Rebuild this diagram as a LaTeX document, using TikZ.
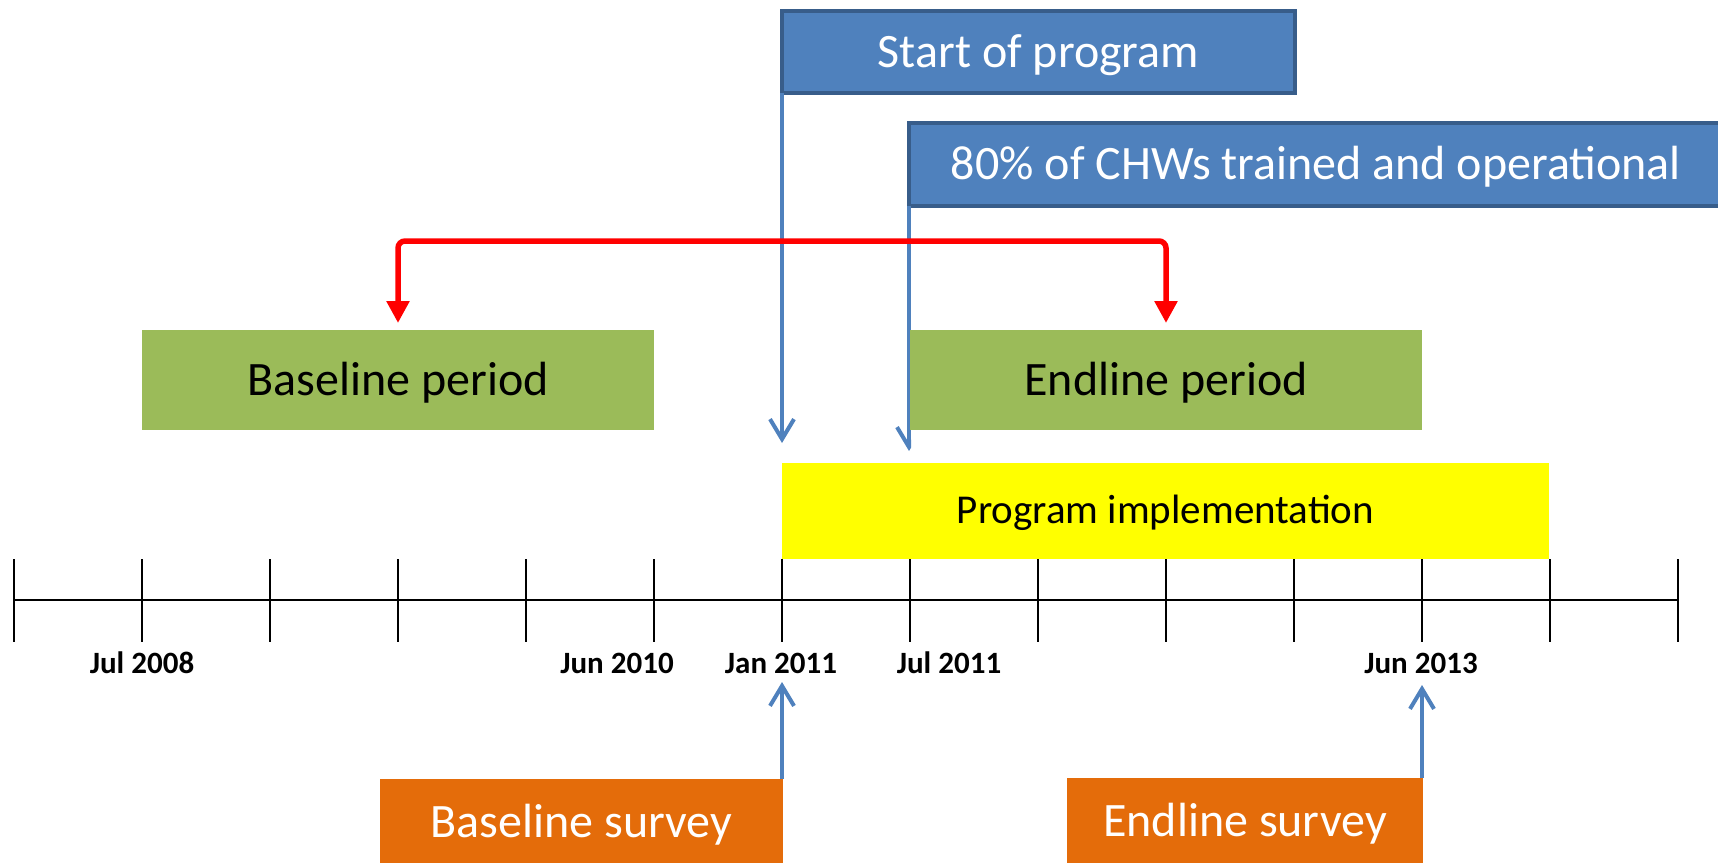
\documentclass[tikz,border=0pt]{standalone}
\usepackage{fontspec}
\setmainfont{Carlito}
\usetikzlibrary{arrows.meta}

\definecolor{accentblue}{HTML}{4F81BD}
\definecolor{blueedge}{HTML}{385D8A}
\definecolor{periodgreen}{HTML}{9BBB59}
\definecolor{surveyorange}{HTML}{E46C0A}
\definecolor{linkred}{HTML}{FF0000}
\definecolor{implyellow}{HTML}{FFFF00}

\begin{document}
\begin{tikzpicture}[x=1pt,y=-1pt,
  boxbase/.style={anchor=north west, inner sep=0pt, outer sep=0pt},
  bigtext/.style={font=\fontsize{48}{58}\selectfont,
    text height=36pt, text depth=6pt},
  milestone/.style={boxbase, bigtext, draw=blueedge, line width=3.5pt,
    fill=accentblue, text=white},
  periodbox/.style={boxbase, bigtext, fill=periodgreen, text=black,
    minimum width=512pt, minimum height=100pt},
  implbox/.style={boxbase, font=\fontsize{41}{50}\selectfont,
    text height=30pt, text depth=6pt,
    fill=implyellow, text=black},
  surveybox/.style={boxbase, bigtext, fill=surveyorange, text=white,
    minimum height=87pt},
  datelabel/.style={anchor=base, inner sep=0pt,
    font=\fontsize{31}{37}\selectfont\bfseries},
  axisline/.style={line width=2.5pt, black},
  tickline/.style={line width=1.8pt, black},
  bluelink/.style={draw=accentblue, line width=4pt,
    -{Straight Barb[length=20pt,width=24pt,line width=4pt]}},
  redlink/.style={draw=linkred, line width=5.5pt, rounded corners=7pt,
    {Triangle[length=22pt,width=22pt]}-{Triangle[length=22pt,width=22pt]}},
]
\useasboundingbox (0,0) rectangle (1718,862);
\fill[white] (0,0) rectangle (1718,862);
\clip (0,0) rectangle (1718,862);

% time axis with its ticks
\draw[axisline] (14,600) -- (1678,600);
\foreach \k in {0,...,13}
  \draw[tickline] (14+128*\k,559) -- (14+128*\k,642);
\draw[tickline, line width=2.8pt] (654,559) -- (654,642);

% arrow end points
\coordinate (tipStart) at (782,443);
\coordinate (tipTrained) at (909,451);
\coordinate (tipBase) at (782,682);
\coordinate (tipEnd) at (1422,685);
\coordinate (redTop) at (0,248);

% milestones
\node[milestone, minimum width=513pt, minimum height=82pt] (start) at (782,11) {Start of program};
\node[milestone, minimum width=814pt, minimum height=83pt] (trained) at (909,123) {80\% of CHWs trained and operational};

% lines down from the milestones (drawn below the period boxes)
\draw[bluelink] (start.south west) -- (tipStart);
\begin{scope}
  \clip (0,0) rectangle (911,862);
  \draw[bluelink] (trained.south west) -- (tipTrained);
\end{scope}

% periods
\node[periodbox] (bperiod) at (142,330) {Baseline period};
\node[periodbox] (eperiod) at (910,330) {Endline period};

% implementation phase
\node[implbox, minimum width=767pt, minimum height=96pt] (impl) at (782,463) {Program implementation};

% link between the two periods
\draw[redlink] ([yshift=7pt]bperiod.north) -- ([yshift=7pt]bperiod.north |- redTop)
  -- ([yshift=7pt]eperiod.north |- redTop) -- ([yshift=7pt]eperiod.north);

% date labels
\node[datelabel] (dJul08) at (142,673) {Jul 2008};
\node[datelabel] (dJun10) at (617,673) {Jun 2010};
\node[datelabel] (dJan11) at (781,673) {Jan 2011};
\node[datelabel] (dJul11) at (949,673) {Jul 2011};
\node[datelabel] (dJun13) at (1421,673) {Jun 2013};

% surveys
\node[surveybox, minimum width=403pt] (bsurvey) at (380,779) {Baseline survey};
\node[surveybox, minimum width=356pt] (esurvey) at (1067,778) {Endline survey};

\draw[bluelink] (tipBase |- bsurvey.north) -- (tipBase);
\draw[bluelink] (tipEnd |- esurvey.north) -- (tipEnd);
\end{tikzpicture}
\end{document}
